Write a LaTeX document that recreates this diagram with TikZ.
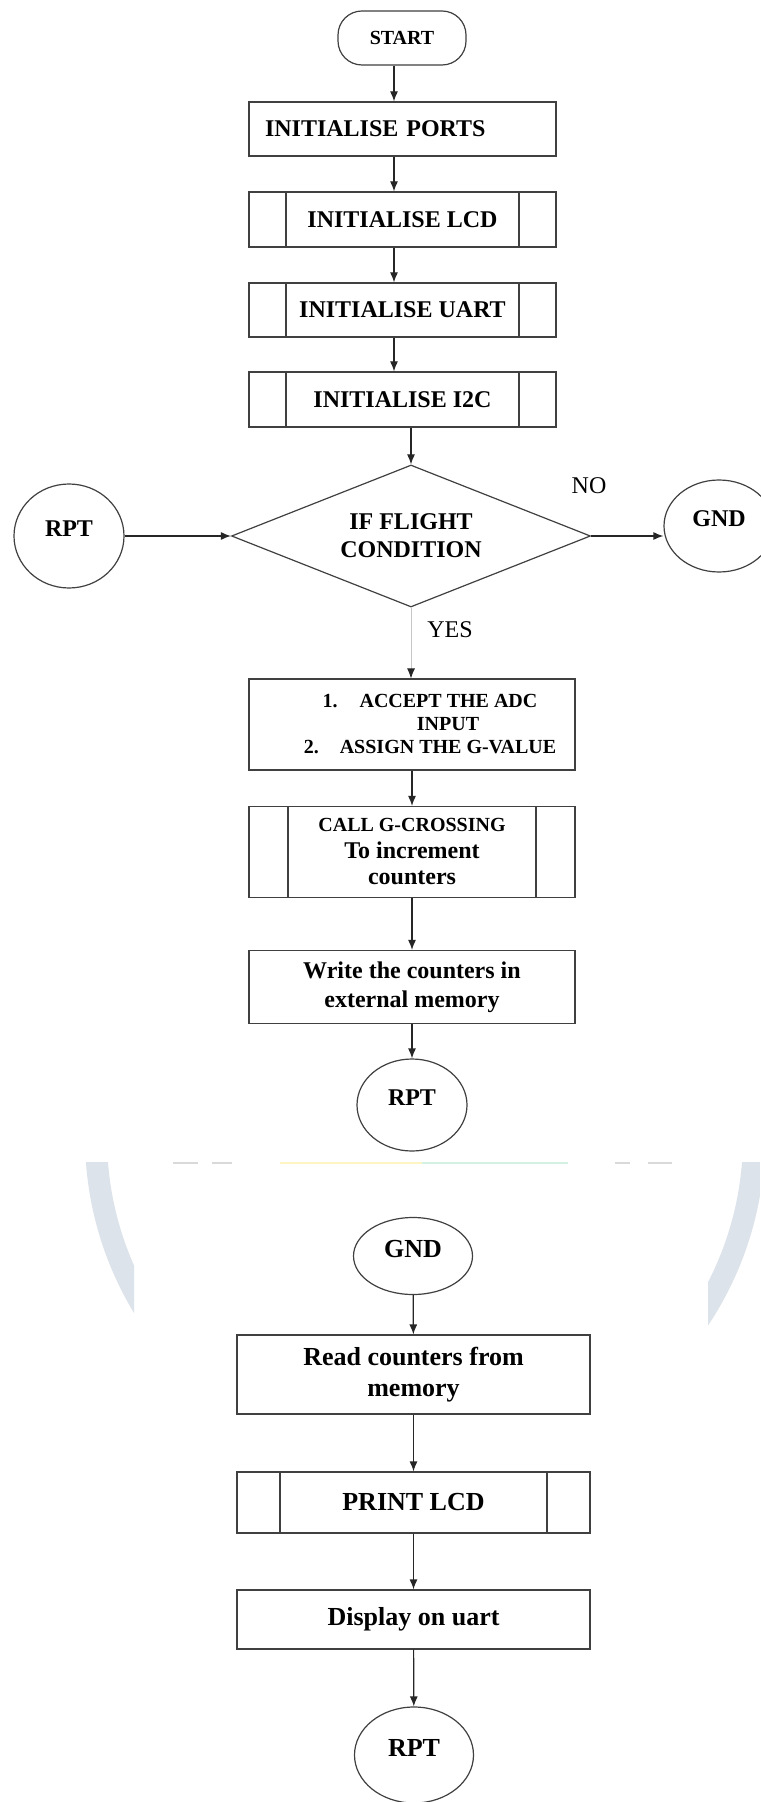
\documentclass[tikz,border=0pt]{standalone}
\usepackage{fontspec}
\setmainfont{Liberation Serif}
\usetikzlibrary{arrows.meta,shapes.geometric}
\newcommand{\fsz}[2]{\fontsize{#1}{#2}\selectfont}
\definecolor{wm}{HTML}{DDE3EA}
\definecolor{sepY}{HTML}{FFF5C2}
\definecolor{sepG}{HTML}{D4F2E4}
\begin{document}
\begin{tikzpicture}[x=0.5pt,y=-0.5pt,line width=0.6pt,
  box/.style 2 args={draw=black!75,rectangle,minimum width=#1,minimum height=#2,inner sep=1pt,align=center,font=\fsz{12}{14.5}\bfseries},
  sub/.style={path picture={\draw[black!75]
    ([xshift=#1]path picture bounding box.north west)--([xshift=#1]path picture bounding box.south west)
    ([xshift=-#1]path picture bounding box.north east)--([xshift=-#1]path picture bounding box.south east);}},
  term/.style={draw=black!75,rounded corners=12pt,minimum width=64pt,minimum height=27pt,font=\fsz{10}{12}\bfseries},
  conn/.style 2 args={draw=black!75,ellipse,inner sep=0pt,minimum width=#1,minimum height=#2,text depth=7pt,font=\fsz{12}{14}\bfseries},
  arr/.style={-{Latex[length=5pt,width=4pt]},black!85}]
\fill[white] (0,0) rectangle (760,1802);
\useasboundingbox (0,0) rectangle (760,1802);
% watermark and cut edge
\begin{scope}
\clip (0,1162) rectangle (134,1802) (708,1162) rectangle (760,1802);
\draw[wm,line width=11pt] (425,1137) circle[radius=164.5pt];
\end{scope}
\draw[sepY,line width=1pt] (280,1163) -- (422,1163);
\draw[sepG,line width=1pt] (422,1163) -- (568,1163);
\draw[gray!30,line width=1pt] (173,1163) -- (198,1163) (212,1163) -- (232,1163) (615,1163) -- (630,1163) (648,1163) -- (672,1163);

% flight part
\node[term] (S) at (402,38) {START};
\node[box={153.5pt}{27pt},text width=137.5pt,align=left,inner xsep=8pt] (P) at (402.5,129) {INITIALISE PORTS};
\node[box={153.5pt}{27.5pt},sub=18.5pt] (L) at (402.5,219.5) {INITIALISE LCD};
\node[box={153.5pt}{27pt},sub=18.5pt] (U) at (402.5,310) {INITIALISE UART};
\node[box={153.5pt}{27.5pt},sub=18.5pt] (I) at (402.5,399.5) {INITIALISE I2C};
\node[draw=black!75,diamond,aspect=2.5,inner sep=0pt,minimum width=179.5pt,minimum height=71pt,align=center,font=\fsz{12}{14}\bfseries] (D) at (411,536) {IF FLIGHT\\CONDITION};
\node[conn={55pt}{52pt}] (R1) at (69,536) {RPT};
\node[conn={55pt}{46pt}] (G1) at (719,526) {GND};
\node[font=\fsz{12}{14}] (N) at (589,486) {NO};
\node[font=\fsz{12}{14}] (Y) at (450,630) {YES};
\node[box={163pt}{45.5pt},font=\fsz{10}{11.5}\bfseries] (A) at (412,724.5)
  {\hspace*{18pt}1.\hspace{11pt}ACCEPT THE ADC\\\hspace*{36pt}INPUT\\\hspace*{18pt}2.\hspace{10.5pt}ASSIGN THE G-VALUE};
\node[box={163pt}{45.5pt},sub=19.5pt,font=\fsz{12}{13.25}\bfseries] (C) at (412,852)
  {{\fsz{10}{12}CALL G-CROSSING}\\To increment\\counters};
\node[box={163pt}{36.5pt}] (W) at (412,987) {Write the counters in\\external memory};
\node[conn={55pt}{46pt}] (R2) at (412,1105) {RPT};

% ground part
\node[conn={59.5pt}{38.5pt},font=\fsz{13}{15}\bfseries] (G2) at (413,1256) {GND};
\node[box={176.5pt}{39.5pt},font=\fsz{13}{15.5}\bfseries] (M) at (413.5,1374.5) {Read counters from\\memory};
\node[box={176.5pt}{30.5pt},sub=21.5pt,font=\fsz{13}{15}\bfseries] (K) at (413.5,1502.5) {PRINT LCD};
\node[box={176.5pt}{29.5pt},font=\fsz{13}{15}\bfseries] (O) at (413.5,1619.5) {Display on uart};
\node[conn={59.5pt}{48pt},font=\fsz{13}{15}\bfseries] (R3) at (414,1755) {RPT};

\coordinate (X1) at (394,0);
\foreach \a/\b in {S/P,P/L,L/U,U/I}
  \draw[arr] (\a.south -| X1) -- (\b.north -| X1);
\draw[arr] (I.south -| D.north) -- (D.north);
\draw[arr] (R1.east) -- (D.west);
\draw[arr] (D.east) -- (D.east -| G1.west);
\draw[-{Latex[length=5pt,width=4pt,color=black!85]},gray!45,line width=0.4pt] (D.south) -- (D.south |- A.north);
\foreach \a/\b in {A/C,C/W,W/R2,G2/M,M/K,K/O,O/R3}
  \draw[arr] (\a) -- (\b);
\end{tikzpicture}
\end{document}
